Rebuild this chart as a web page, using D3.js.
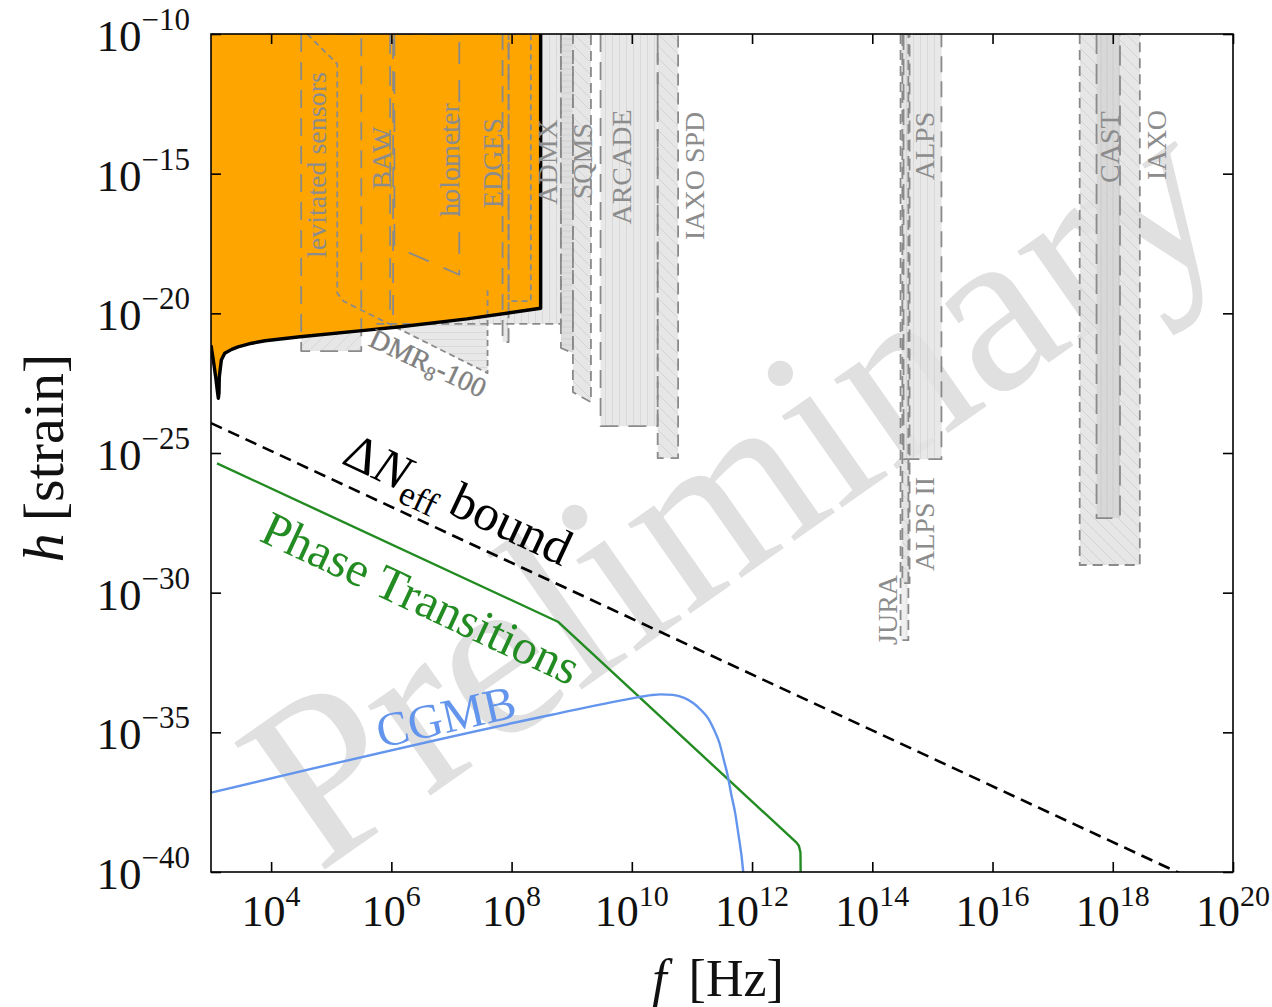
<!DOCTYPE html>
<html>
<head>
<meta charset="utf-8">
<script src="https://cdn.jsdelivr.net/npm/d3@7"></script>
<style>
  body { margin: 0; background: #fff; }
  svg { display: block; }
</style>
</head>
<body>
<svg id="chart" width="1272" height="1007"></svg>
<script>
// ---- axis ranges and ticks ----
const fDomain = [1e3, 1e20];          // frequency [Hz]
const hDomain = [1e-40, 1e-10];       // strain
const xTickExps = [4, 6, 8, 10, 12, 14, 16, 18, 20];
const yTickExps = [-10, -15, -20, -25, -30, -35, -40];

// ---- excluded region boundary: [log10 f, log10 h] ----
const excludedEdge = [
  [3.0, -21.14], [3.038, -21.67], [3.078, -22.28], [3.11, -22.85], [3.122, -23.04],
  [3.133, -22.85], [3.138, -22.28], [3.172, -21.67], [3.228, -21.43], [3.345, -21.29],
  [3.45, -21.2], [3.678, -21.07], [3.9, -20.98], [4.483, -20.84], [5.595, -20.60],
  [6.15, -20.48], [7.26, -20.20], [8.483, -19.82], [8.483, -10]
];

// ---- signal curves: [log10 f, log10 h] ----
const deltaNeffBound = [[3.0, -23.93], [20.0, -40.93]];
const phaseTransitions = [
  [3.1, -25.37], [8.77, -31.04], [12.74, -38.95], [12.78, -39.07], [12.805, -39.3], [12.81, -40.5]
];
const cgmb = [
  [3.0, -37.16], [8.65, -34.38], [10.12, -33.74], [10.32, -33.67], [10.48, -33.64],
  [10.68, -33.66], [10.87, -33.77], [11.02, -33.95], [11.15, -34.20], [11.27, -34.5],
  [11.37, -34.92], [11.46, -35.4], [11.53, -35.99], [11.60, -36.6], [11.65, -37.18],
  [11.72, -37.9], [11.77, -38.61], [11.85, -39.93], [11.87, -40.5]
];

// ---- detector sensitivity regions: outline vertices [log10 f, log10 h] ----
// "open" regions are stroked without their closing edge
const detectorIds = ["lev", "dmr", "baw", "holo", "edges", "edges2", "admx", "sqms1", "sqms",
  "arcade", "iaxospd", "jura", "alps2", "alps", "iaxo", "cast"];
const detectorShapes = {
  lev:     [[4.5, -10], [4.5, -21.35], [5.5, -21.35], [5.5, -10]],
  dmr:     [[4.6, -10], [5.1, -11.07], [5.1, -19.27], [5.2, -19.56], [7.6, -22.14], [7.6, -19.17]],
  baw:     [[5.98, -10], [5.98, -20.13], [6.03, -20.13], [6.03, -10]],
  holo:    [[6.05, -10], [6.05, -17.6], [7.13, -18.62], [7.13, -10]],
  edges:   [[7.85, -10], [7.85, -21.03], [7.95, -21.03], [7.95, -10]],
  edges2:  [[7.95, -10], [7.95, -19.56], [8.32, -19.56], [8.32, -10]],
  admx:    [[5.75, -20.38], [8.82, -20.38], [8.82, -10]],
  sqms1:   [[8.82, -10], [8.82, -21.24], [9.02, -21.42], [9.02, -10]],
  sqms:    [[9.02, -10], [9.02, -22.82], [9.32, -23.18], [9.32, -10]],
  arcade:  [[9.48, -10], [9.48, -24.04], [10.43, -24.04], [10.43, -10]],
  iaxospd: [[10.43, -10], [10.43, -25.18], [10.77, -25.18], [10.77, -10]],
  jura:    [[14.47, -10], [14.47, -31.70], [14.6, -31.70], [14.6, -10]],
  alps2:   [[14.5, -10], [14.5, -29.66], [14.62, -29.66], [14.62, -10]],
  alps:    [[14.52, -10], [14.52, -25.22], [15.15, -25.22], [15.15, -10]],
  iaxo:    [[17.45, -10], [17.45, -29.01], [18.45, -29.01], [18.45, -10]],
  cast:    [[17.73, -10], [17.73, -27.33], [18.12, -27.33], [18.12, -10]]
};
const openShapes = ["dmr", "admx"];

// ---- detector labels: text and centre [log10 f, log10 h] ----
const detectorLabels = ["levitated sensors", "BAW", "holometer", "EDGES", "ADMX", "SQMS",
  "ARCADE", "IAXO SPD", "ALPS", "CAST", "IAXO", "ALPS II", "JURA"];
const detectorLabelPos = [
  [4.75, -14.69], [5.83, -14.44], [6.97, -14.51], [7.68, -14.62], [8.6, -14.58], [9.18, -14.55],
  [9.82, -14.76], [11.05, -15.08], [14.87, -14.01], [17.95, -14.05], [18.72, -13.97],
  [14.87, -27.54], [14.25, -30.62]
];
const dmrLabelPos = [5.6, -21.14];
const neffLabelPos = [5.15, -25.36];
const ptLabelPos = [3.78, -28.12];
const cgmbLabelPos = [5.82, -35.56];

// ---- styling ----
const serif = "'Liberation Serif', 'DejaVu Serif', serif";
const regionStyle = {
  lev:     { hatch: "slash", dash: "18,10" },
  dmr:     { hatch: "horiz", dash: "6,4" },
  baw:     { hatch: "vert",  dash: "20,12" },
  holo:    { hatch: "vert",  dash: "22,16" },
  edges:   { hatch: "vert",  dash: "16,10" },
  edges2:  { hatch: "vert",  dash: "6,4" },
  admx:    { hatch: "vert",  dash: "8,5" },
  sqms1:   { hatch: "horizDark", dash: "14,8" },
  sqms:    { hatch: "back",  dash: "10,6" },
  arcade:  { hatch: "vert",  dash: "18,10" },
  iaxospd: { hatch: "back",  dash: "12,7" },
  jura:    { hatch: "light", dash: "10,6" },
  alps2:   { hatch: "back",  dash: "12,7" },
  alps:    { hatch: "vert",  dash: "16,9" },
  iaxo:    { hatch: "back",  dash: "10,6" },
  cast:    { hatch: "vertDark", dash: "20,10" }
};

const svg = d3.select("#chart");
const X0 = 211, X1 = 1233, Y0 = 34, Y1 = 872;
const x = d3.scaleLog().domain(fDomain).range([X0, X1]);
const y = d3.scaleLog().domain(hDomain).range([Y1, Y0]);
const px = d => x(Math.pow(10, d[0]));
const py = d => y(Math.pow(10, d[1]));

const defs = svg.append("defs");
defs.append("clipPath").attr("id", "plotClip")
  .append("rect").attr("x", X0).attr("y", Y0).attr("width", X1 - X0).attr("height", Y1 - Y0);

// hatch patterns
function hatch(id, bg, stroke, size, lines) {
  const p = defs.append("pattern").attr("id", id).attr("patternUnits", "userSpaceOnUse")
    .attr("width", size).attr("height", size);
  p.append("rect").attr("width", size).attr("height", size).attr("fill", bg);
  lines.forEach(l => p.append("line").attr("x1", l[0]).attr("y1", l[1]).attr("x2", l[2]).attr("y2", l[3])
    .attr("stroke", stroke).attr("stroke-width", 1));
}
hatch("slash", "#e2e2e2", "#d0d0d0", 12, [[0, 12, 12, 0], [-3, 3, 3, -3], [9, 15, 15, 9]]);
hatch("back", "#e2e2e2", "#cdcdcd", 12, [[0, 0, 12, 12], [-3, 9, 3, 15], [9, -3, 15, 3]]);
hatch("vert", "#e4e4e4", "#d2d2d2", 7, [[3.5, 0, 3.5, 7]]);
hatch("vertDark", "#d6d6d6", "#c6c6c6", 6, [[3, 0, 3, 6]]);
hatch("horiz", "#e4e4e4", "#d2d2d2", 7, [[0, 3.5, 7, 3.5]]);
hatch("horizDark", "#d8d8d8", "#c8c8c8", 6, [[0, 3, 6, 3]]);
hatch("light", "#ececec", "#e0e0e0", 7, [[3.5, 0, 3.5, 7]]);

// watermark, drawn beneath the plot contents (not clipped)
svg.append("text")
  .attr("transform", "translate(732,486) rotate(-35)")
  .attr("text-anchor", "middle")
  .attr("dominant-baseline", "central")
  .attr("font-family", serif)
  .attr("font-size", 238)
  .attr("fill", "#e0e0e0")
  .text("Preliminary");

const plot = svg.append("g").attr("clip-path", "url(#plotClip)");
const line = d3.line().x(px).y(py);

// region fills
const fillG = plot.append("g");
detectorIds.forEach(id => {
  let pts = detectorShapes[id].slice();
  if (id === "dmr") pts = pts.concat([[7.6, -10]]);
  if (id === "admx") pts = [[5.75, -10]].concat(pts);
  fillG.append("path")
    .attr("d", line(pts) + "Z")
    .attr("fill", `url(#${regionStyle[id].hatch})`)
    .attr("fill-opacity", 0.85);
});

// excluded region
plot.append("path")
  .attr("d", line([[3.0, -10]].concat(excludedEdge)) + "Z")
  .attr("fill", "#ffa500");

// region outlines
const outlineG = plot.append("g");
detectorIds.forEach(id => {
  const closed = !openShapes.includes(id);
  outlineG.append("path")
    .attr("d", line(detectorShapes[id]) + (closed ? "Z" : ""))
    .attr("fill", "none")
    .attr("stroke", "#8a8a8a")
    .attr("stroke-width", 1.8)
    .attr("stroke-dasharray", regionStyle[id].dash)
    .attr("stroke-linejoin", "round");
});

// excluded region edge
plot.append("path")
  .attr("d", line(excludedEdge))
  .attr("fill", "none").attr("stroke", "#000").attr("stroke-width", 3.4)
  .attr("stroke-linejoin", "round");

// curves
plot.append("path").attr("d", line(deltaNeffBound))
  .attr("fill", "none").attr("stroke", "#000").attr("stroke-width", 2.6)
  .attr("stroke-dasharray", "12,7");
plot.append("path").attr("d", line(phaseTransitions))
  .attr("fill", "none").attr("stroke", "#228b22").attr("stroke-width", 2.4)
  .attr("stroke-linejoin", "round");
plot.append("path").attr("d", d3.line().x(px).y(py).curve(d3.curveMonotoneX)(cgmb))
  .attr("fill", "none").attr("stroke", "#6495ed").attr("stroke-width", 2.4);

// detector labels
const labG = svg.append("g").attr("font-family", serif).attr("fill", "#8c8c8c").attr("font-size", 28);
detectorLabels.forEach((t, i) => {
  const p = detectorLabelPos[i];
  labG.append("text")
    .attr("transform", `translate(${px(p)},${py(p)}) rotate(-90)`)
    .attr("text-anchor", "middle")
    .attr("dominant-baseline", "central")
    .text(t);
});

// DMR label along the slanted edge
{
  const t = svg.append("text")
    .attr("transform", `translate(${px(dmrLabelPos)},${py(dmrLabelPos)}) rotate(25)`)
    .attr("font-family", serif).attr("font-size", 28).attr("fill", "#808080")
    .attr("stroke", "#808080").attr("stroke-width", 0.4);
  t.append("tspan").text("DMR");
  t.append("tspan").attr("font-size", 20).attr("dy", 6).text("8");
  t.append("tspan").attr("dy", -6).text("-100");
}

// curve labels
{
  const t = svg.append("text")
    .attr("transform", `translate(${px(neffLabelPos)},${py(neffLabelPos)}) rotate(25)`)
    .attr("font-family", serif).attr("font-size", 51).attr("fill", "#000");
  t.append("tspan").text("\u0394");
  t.append("tspan").attr("font-style", "italic").text("N");
  t.append("tspan").attr("font-size", 35).attr("dy", 11).text("eff");
  t.append("tspan").attr("dy", -11).attr("dx", 12).text("bound");
}
svg.append("text")
  .attr("transform", `translate(${px(ptLabelPos)},${py(ptLabelPos)}) rotate(25)`)
  .attr("font-family", serif).attr("font-size", 49).attr("fill", "#228b22")
  .text("Phase Transitions");
svg.append("text")
  .attr("transform", `translate(${px(cgmbLabelPos)},${py(cgmbLabelPos)}) rotate(-12.8)`)
  .attr("font-family", serif).attr("font-size", 48).attr("fill", "#6495ed")
  .text("CGMB");

// axes: inward ticks on all four sides
function styleAxis(g) {
  g.select(".domain").remove();
  g.selectAll(".tick line").attr("stroke", "#000").attr("stroke-width", 1.6);
  g.selectAll(".tick text").remove();
}
const xTicks = xTickExps.map(e => Math.pow(10, e));
const yTicks = yTickExps.map(e => Math.pow(10, e));
svg.append("g").attr("transform", `translate(0,${Y1})`)
  .call(d3.axisBottom(x).tickValues(xTicks).tickSizeInner(-10).tickSizeOuter(0)).call(styleAxis);
svg.append("g").attr("transform", `translate(0,${Y0})`)
  .call(d3.axisTop(x).tickValues(xTicks).tickSizeInner(-10).tickSizeOuter(0)).call(styleAxis);
svg.append("g").attr("transform", `translate(${X0},0)`)
  .call(d3.axisLeft(y).tickValues(yTicks).tickSizeInner(-10).tickSizeOuter(0)).call(styleAxis);
svg.append("g").attr("transform", `translate(${X1},0)`)
  .call(d3.axisRight(y).tickValues(yTicks).tickSizeInner(-10).tickSizeOuter(0)).call(styleAxis);

svg.append("rect").attr("x", X0).attr("y", Y0).attr("width", X1 - X0).attr("height", Y1 - Y0)
  .attr("fill", "none").attr("stroke", "#000").attr("stroke-width", 1.6);

// tick labels as powers of ten
const xl = svg.append("g").attr("font-family", serif).attr("fill", "#111");
xTickExps.forEach(e => {
  const t = xl.append("text").attr("x", x(Math.pow(10, e))).attr("y", 926)
    .attr("text-anchor", "middle").attr("font-size", 44);
  t.append("tspan").text("10");
  t.append("tspan").attr("font-size", 30).attr("dy", -20).text(String(e));
});
const yl = svg.append("g").attr("font-family", serif).attr("fill", "#111");
yTickExps.forEach(e => {
  const t = yl.append("text").attr("x", 190).attr("y", y(Math.pow(10, e)) + 17)
    .attr("text-anchor", "end").attr("font-size", 45);
  t.append("tspan").text("10");
  t.append("tspan").attr("font-size", 31).attr("dy", -21).text("\u2212" + String(-e));
});

// axis titles
{
  const t = svg.append("text").attr("x", 718).attr("y", 996).attr("text-anchor", "middle")
    .attr("font-family", serif).attr("font-size", 52).attr("fill", "#111");
  t.append("tspan").attr("font-style", "italic").text("f");
  t.append("tspan").attr("dx", 22).text("[Hz]");
}
{
  const t = svg.append("text").attr("transform", "translate(63,458) rotate(-90)")
    .attr("text-anchor", "middle")
    .attr("font-family", serif).attr("font-size", 58).attr("fill", "#111");
  t.append("tspan").attr("font-style", "italic").text("h");
  t.append("tspan").attr("dx", 12).text("[strain]");
}
</script>
</body>
</html>
